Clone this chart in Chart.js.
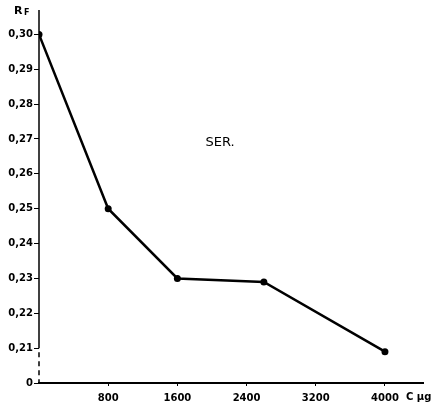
<!DOCTYPE html>
<html>
<head>
<meta charset="utf-8">
<script src="https://cdn.jsdelivr.net/npm/chart.js@4"></script>
<style>
  html, body { margin: 0; padding: 0; background: #fff; }
  #wrap { width: 442px; height: 407px; }
</style>
</head>
<body>
<div id="wrap"><canvas id="chrt" width="442" height="407"></canvas></div>
<script>
// concentration (C, µg) and Rf values
const concentracion = [0, 800, 1600, 2600, 4000];
const valoresRf = [0.300, 0.250, 0.230, 0.229, 0.209];

const ticksX = [800, 1600, 2400, 3200, 4000];
const ticksY = [0.20, 0.21, 0.22, 0.23, 0.24, 0.25, 0.26, 0.27, 0.28, 0.29, 0.30];

const fuente = { family: "DejaVu Sans", size: 10, weight: "bold" };

// textos sueltos + eje Y con tramo cortado
const textos = {
  id: "textos",
  afterDraw(chart) {
    const ctx = chart.ctx;
    const sx = chart.scales.x, sy = chart.scales.y;
    const x0 = sx.getPixelForValue(0);
    ctx.save();
    ctx.strokeStyle = "#000";
    ctx.lineWidth = 1.5;
    // eje Y solido hasta 0,21
    ctx.beginPath();
    ctx.moveTo(x0, chart.chartArea.top);
    ctx.lineTo(x0, sy.getPixelForValue(0.21));
    ctx.stroke();
    // tramo cortado
    ctx.setLineDash([5, 4]);
    ctx.beginPath();
    ctx.moveTo(x0, sy.getPixelForValue(0.21) + 4);
    ctx.lineTo(x0, sy.getPixelForValue(0.20));
    ctx.stroke();
    ctx.setLineDash([]);

    ctx.fillStyle = "#000";
    ctx.textBaseline = "middle";
    ctx.font = "bold 11px 'DejaVu Sans'";
    ctx.textAlign = "left";
    ctx.fillText("R", 14, 11);
    ctx.font = "bold 8px 'DejaVu Sans'";
    ctx.fillText("F", 24, 13);

    ctx.font = "13px 'DejaVu Sans'";
    ctx.textAlign = "center";
    ctx.fillText("SER.", 220, 143);

    ctx.font = "bold 10px 'DejaVu Sans'";
    ctx.textAlign = "left";
    ctx.fillText("C µg", 406, 397);
    ctx.restore();
  }
};

const ctx = document.querySelector("#chrt");

let miGrafico = new Chart(ctx, {
  type: "line",
  data: {
    datasets: [{
      data: concentracion.map((c, i) => ({ x: c, y: valoresRf[i] })),
      borderColor: "#000",
      backgroundColor: "#000",
      borderWidth: 2.5,
      pointRadius: 3.5,
      pointBackgroundColor: "#000",
      pointBorderWidth: 0,
      tension: 0
    }]
  },
  options: {
    responsive: false,
    animation: false,
    layout: { padding: { top: 10, right: 19, left: 0, bottom: 0 } },
    plugins: { legend: { display: false }, tooltip: { enabled: false } },
    scales: {
      x: {
        type: "linear",
        min: 0,
        max: 4440,
        afterFit: s => { s.height = 24; },
        afterBuildTicks: s => { s.ticks = ticksX.map(v => ({ value: v })); },
        border: { color: "#000", width: 2 },
        grid: { drawOnChartArea: false, tickLength: 3, color: "#000" },
        ticks: { color: "#000", font: fuente, padding: 6, maxRotation: 0, callback: v => String(v) }
      },
      y: {
        min: 0.20,
        max: 0.307,
        afterFit: s => { s.width = 39; },
        afterBuildTicks: s => { s.ticks = ticksY.map(v => ({ value: v })); },
        border: { display: false },
        grid: { drawOnChartArea: false, tickLength: 5, color: "#000" },
        ticks: {
          color: "#000",
          font: fuente,
          padding: 1,
          callback: v => v < 0.205 ? "0" : v.toFixed(2).replace(".", ",")
        }
      }
    }
  },
  plugins: [textos]
});
</script>
</body>
</html>
